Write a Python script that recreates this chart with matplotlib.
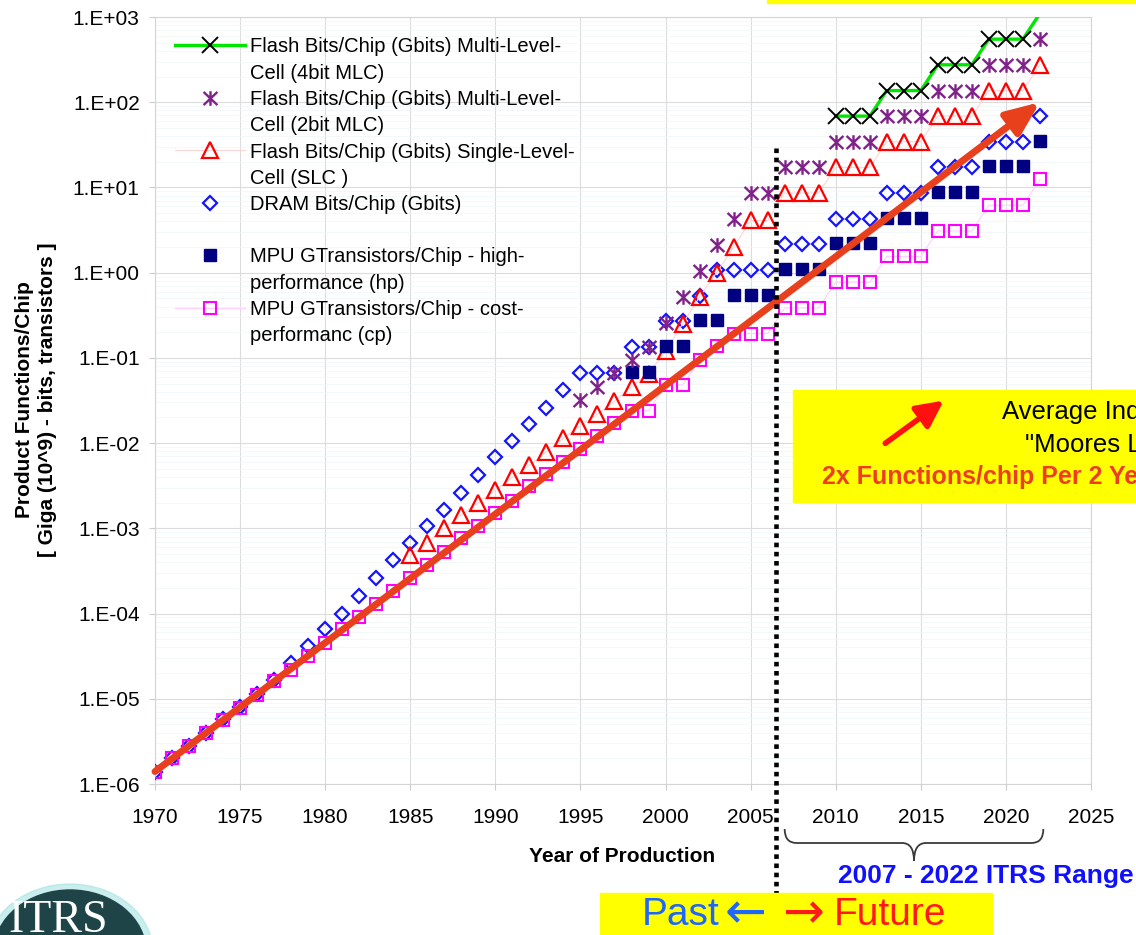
import numpy as np
import matplotlib
matplotlib.use("Agg")
import matplotlib.pyplot as plt
from matplotlib.lines import Line2D
from matplotlib.patches import Rectangle, Ellipse, PathPatch, FancyArrowPatch
from matplotlib.path import Path
from matplotlib.transforms import blended_transform_factory
from matplotlib.ticker import FixedLocator, FuncFormatter, LogLocator, NullFormatter

plt.rcParams['font.family'] = ['Liberation Sans', 'DejaVu Sans']

# ---- data ----
dram_years = list(range(1970, 2023))
dram_vals = [1.4e-6, 2.0e-6, 2.8e-6, 4.0e-6, 5.8e-6, 8.1e-6, 1.15e-5, 1.66e-5, 2.6e-5, 4.2e-5,
             6.5e-5, 1.0e-4, 1.6e-4, 2.6e-4, 4.2e-4, 6.8e-4, 1.07e-3, 1.66e-3, 2.6e-3, 4.2e-3,
             6.8e-3, 1.07e-2, 1.66e-2, 2.6e-2, 4.2e-2, 0.067, 0.067, 0.067, 0.134, 0.134,
             0.268, 0.268, 0.537, 1.07, 1.07, 1.07, 1.07, 2.15, 2.15, 2.15,
             4.29, 4.29, 4.29, 8.59, 8.59, 8.59, 17.2, 17.2, 17.2, 34.4,
             34.4, 34.4, 68.7]

mpu_cp_years = list(range(1970, 2023))
mpu_cp_vals = [1.4e-6, 2.0e-6, 2.8e-6, 4.0e-6, 5.6e-6, 7.9e-6, 1.12e-5, 1.6e-5, 2.2e-5, 3.2e-5,
               4.5e-5, 6.5e-5, 9.2e-5, 1.3e-4, 1.85e-4, 2.6e-4, 3.7e-4, 5.3e-4, 7.6e-4, 1.07e-3,
               1.5e-3, 2.1e-3, 3.1e-3, 4.3e-3, 6.0e-3, 8.5e-3, 1.2e-2, 1.7e-2, 0.024, 0.024,
               0.048, 0.048, 0.095, 0.137, 0.193, 0.193, 0.193, 0.386, 0.386, 0.386,
               0.773, 0.773, 0.773, 1.55, 1.55, 1.55, 3.09, 3.09, 3.09, 6.18,
               6.18, 6.18, 12.4]

mpu_hp_years = list(range(1998, 2023))
mpu_hp_vals = [0.0686, 0.0686, 0.139, 0.139, 0.28, 0.28, 0.553, 0.553, 0.553,
               1.106, 1.106, 1.106, 2.212, 2.212, 2.212, 4.424, 4.424, 4.424,
               8.848, 8.848, 8.848, 17.7, 17.7, 17.7, 35.4]

slc_years = list(range(1985, 2023))
slc_vals = [4.9e-4, 6.8e-4, 1.0e-3, 1.44e-3, 2.0e-3, 2.8e-3, 4.0e-3, 5.5e-3, 7.9e-3, 1.15e-2,
            0.016, 0.022, 0.031, 0.046, 0.065, 0.12, 0.25, 0.52, 1.0, 2.0,
            4.1, 4.1, 8.6, 8.6, 8.6, 17.2, 17.2, 17.2, 34.4, 34.4,
            34.4, 68.7, 68.7, 68.7, 137, 137, 137, 275]

mlc2_years = list(range(1995, 2023))
mlc2_vals = [0.032, 0.046, 0.067, 0.095, 0.134, 0.26, 0.52, 1.05, 2.1, 4.3,
             8.6, 8.6, 17.2, 17.2, 17.2, 34.4, 34.4, 34.4, 68.7, 68.7,
             68.7, 137, 137, 137, 275, 275, 275, 550]

mlc4_years = list(range(2010, 2023))
mlc4_vals = [68.7, 68.7, 68.7, 137, 137, 137, 275, 275, 275, 550, 550, 550, 1100]

trend_years = [1970, 2022]
trend_vals = [1.4e-6, 100]
split_year = 2006.5
itrs_range = [2007, 2022.2]

x_ticks = list(range(1970, 2026, 5))
y_ticks = [1e-6, 1e-5, 1e-4, 1e-3, 1e-2, 1e-1, 1e0, 1e1, 1e2, 1e3]

labels = ["Flash Bits/Chip (Gbits) Multi-Level-", "Cell (4bit MLC)",
          "Flash Bits/Chip (Gbits) Multi-Level-", "Cell (2bit MLC)",
          "Flash Bits/Chip (Gbits) Single-Level-", "Cell (SLC )",
          "DRAM Bits/Chip (Gbits)", " ",
          "MPU GTransistors/Chip - high-", "performance (hp)",
          "MPU GTransistors/Chip - cost-", "performanc (cp)"]

W, H = 1136, 935
fig = plt.figure(figsize=(W / 100, H / 100), dpi=100)
ax = fig.add_axes([155 / W, 1 - 784 / H, (1091 - 155) / W, (784 - 17) / H])

c_dram = '#1414ff'
c_hp = '#000080'
c_cp = '#ff00ff'
c_slc = '#ff0000'
c_mlc2 = '#80228a'
c_green = '#00e600'

# asterisk like the spreadsheet marker: vertical bar plus an X
ast = Path([(0, -1), (0, 1), (-0.95, -0.9), (0.95, 0.9), (-0.95, 0.9), (0.95, -0.9)],
           [Path.MOVETO, Path.LINETO, Path.MOVETO, Path.LINETO, Path.MOVETO, Path.LINETO])

ax.plot(dram_years, dram_vals, linestyle='none', marker='D', ms=7.5, mfc='none',
        mec=c_dram, mew=1.6, zorder=3)
ax.plot(slc_years, slc_vals, color='#ffd4d4', lw=0.8, marker='^', ms=11.5, mfc='none',
        mec=c_slc, mew=1.6, zorder=3)
ax.plot(mpu_hp_years, mpu_hp_vals, linestyle='none', marker='s', ms=9, mfc=c_hp,
        mec=c_hp, zorder=3)
ax.plot(mpu_cp_years, mpu_cp_vals, color='#ffd0ff', lw=0.8, marker='s', ms=8.5, mfc='none',
        mec=c_cp, mew=1.5, zorder=3)
ax.plot(mlc2_years, mlc2_vals, linestyle='none', marker=ast, ms=10.5, mfc='none',
        mec=c_mlc2, mew=1.7, zorder=4)
ax.plot(mlc4_years, mlc4_vals, color=c_green, lw=2.4, marker='x', ms=11, mec='black',
        mew=1.4, markevery=list(range(len(mlc4_years) - 1)), zorder=4)

# trend arrow
ax.annotate('', xy=(trend_years[1], trend_vals[1]), xytext=(trend_years[0], trend_vals[0]),
            arrowprops=dict(arrowstyle='-|>,head_length=1.0,head_width=0.42', color='#e8401c',
                            lw=5, shrinkA=0, shrinkB=0, mutation_scale=20),
            zorder=6)

ax.set_yscale('log')
ax.set_xlim(1970, 2025)
ax.set_ylim(1e-6, 1e3)
ax.xaxis.set_major_locator(FixedLocator(x_ticks))
ax.yaxis.set_major_locator(FixedLocator(y_ticks))
ax.yaxis.set_major_formatter(FuncFormatter(lambda v, _: "1.E%+03d" % round(np.log10(v))))
ax.yaxis.set_minor_locator(LogLocator(base=10, subs=np.arange(2, 10)))
ax.yaxis.set_minor_formatter(NullFormatter())
ax.tick_params(axis='both', which='major', labelsize=15, color='#cccccc', length=4)
ax.tick_params(axis='y', which='minor', length=0)
ax.tick_params(axis='x', pad=13)
ax.tick_params(axis='y', pad=7)
ax.grid(True, which='major', color='#dcdcdc', lw=0.8)
ax.grid(True, which='minor', axis='y', color='#eef6f6', lw=0.5)
ax.set_axisbelow(True)
for s in ax.spines.values():
    s.set_color('#d4d4d4')
    s.set_linewidth(0.8)

# legend, one row per text line so the symbol sits on the first line
blank = Line2D([], [], linestyle='none')
h4 = Line2D([], [], color=c_green, lw=2.4, marker='x', ms=11, mec='black', mew=1.4)
h2 = Line2D([], [], linestyle='none', marker=ast, ms=10.5, mfc='none', mec=c_mlc2, mew=1.7)
hs = Line2D([], [], color='#ffd4d4', lw=0.8, marker='^', ms=11.5, mfc='none', mec=c_slc, mew=1.6)
hd = Line2D([], [], linestyle='none', marker='D', ms=7.5, mfc='none', mec=c_dram, mew=1.6)
hh = Line2D([], [], linestyle='none', marker='s', ms=9, mfc=c_hp, mec=c_hp)
hc = Line2D([], [], color='#ffd0ff', lw=0.8, marker='s', ms=8.5, mfc='none', mec=c_cp, mew=1.5)
handles = [h4, blank, h2, blank, hs, blank, hd, blank, hh, blank, hc, blank]
leg = ax.legend(handles, labels, loc='upper left', bbox_to_anchor=(175 / W, 1 - 37.5 / H),
                bbox_transform=fig.transFigure, frameon=False, fontsize=14.5,
                handlelength=3.48, handletextpad=0.25, labelspacing=0.36,
                borderpad=0, borderaxespad=0)
leg.set_zorder(5)

# axis titles
fig.text(36 / W, 1 - 400 / H, "Product Functions/Chip\n[ Giga (10^9) - bits, transistors ]",
         rotation=90, ha='center', va='center', fontsize=15, fontweight='bold',
         multialignment='center', linespacing=1.28)
fig.text(622 / W, 1 - 856 / H, "Year of Production", ha='center', va='center',
         fontsize=15, fontweight='bold')

# past / future divider
bt = blended_transform_factory(ax.transData, fig.transFigure)
ax.add_line(Line2D([split_year, split_year], [1 - 148 / H, 0], transform=bt, color='black',
                   lw=3.3, linestyle=(0, (1, 1)), clip_on=False, zorder=9))

# brace under the ITRS range
x0, x1 = itrs_range
xc = (x0 + x1) / 2
yt, ym, yb = 1 - 829 / H, 1 - 843 / H, 1 - 861 / H
verts = [(x0, yt), (x0, ym), (x0 + 0.7, ym), (xc - 0.7, ym), (xc, ym), (xc, yb),
         (xc, ym), (xc + 0.7, ym), (x1 - 0.7, ym), (x1, ym), (x1, yt)]
codes = [Path.MOVETO, Path.CURVE3, Path.CURVE3, Path.LINETO, Path.CURVE3, Path.CURVE3,
         Path.CURVE3, Path.CURVE3, Path.LINETO, Path.CURVE3, Path.CURVE3]
ax.add_patch(PathPatch(Path(verts, codes), transform=bt, fill=False, edgecolor='#3a3a3a',
                       lw=1.3, clip_on=False))
fig.text(838 / W, 1 - 876 / H, "2007 - 2022 ITRS Range", ha='left', va='center',
         fontsize=19, fontweight='bold', color='#1010ff')

# yellow boxes
fig.add_artist(Rectangle((767 / W, 1 - 3 / H), (W - 767) / W, 3 / H, transform=fig.transFigure,
                         color='#ffff00', zorder=8))
fig.add_artist(Rectangle((793 / W, 1 - 502 / H), (W - 793 + 5) / W, 112 / H,
                         transform=fig.transFigure, color='#ffff00', zorder=8))
fig.text(1002 / W, 1 - 412 / H, "Average Industry", ha='left', va='center', fontsize=18.5,
         zorder=9)
fig.text(1025 / W, 1 - 445 / H, '"Moores Law"', ha='left', va='center', fontsize=18.5,
         zorder=9)
fig.text(822 / W, 1 - 477 / H, "2x Functions/chip Per 2 Years", ha='left', va='center',
         fontsize=18, fontweight='bold', color='#ee3e22', zorder=9)
fig.add_artist(FancyArrowPatch(
    (883 / W, 1 - 445 / H), (946 / W, 1 - 399 / H), transform=fig.transFigure,
    arrowstyle='-|>,head_length=0.8,head_width=0.4', mutation_scale=20, color='#ff1010',
    lw=4, zorder=9))

fig.add_artist(Rectangle((600 / W, 0), 392 / W, 42 / H, transform=fig.transFigure,
                         color='#ffff00', zorder=8))
fig.text(642 / W, 1 - 915 / H, "Past", ha='left', va='center', fontsize=28,
         color='#1f66ff', zorder=9)
fig.text(725 / W, 1 - 914 / H, "\u2190", ha='left', va='center', fontsize=36,
         family=['DejaVu Sans'], color='#1f66ff', zorder=9)
fig.text(782 / W, 1 - 914 / H, "\u2192", ha='left', va='center', fontsize=36,
         family=['DejaVu Sans'], color='#ff1a1a', zorder=9)
fig.text(834 / W, 1 - 915 / H, "Future", ha='left', va='center', fontsize=28,
         color='#ff1a1a', zorder=9)

# ITRS logo
fig.add_artist(Ellipse((70 / W, 1 - 952 / H), 166 / W, 136 / H, transform=fig.transFigure,
                       color='#9fe0e0', alpha=0.55, zorder=8))
fig.add_artist(Ellipse((70 / W, 1 - 952 / H), 152 / W, 124 / H, transform=fig.transFigure,
                       color='#1e4448', zorder=8))
fig.text(8 / W, 1 - 932 / H, "ITRS", ha='left', va='baseline', fontsize=33,
         family=['Liberation Serif', 'DejaVu Serif'], color='white', zorder=9)

fig.savefig('out.png', dpi=100)
